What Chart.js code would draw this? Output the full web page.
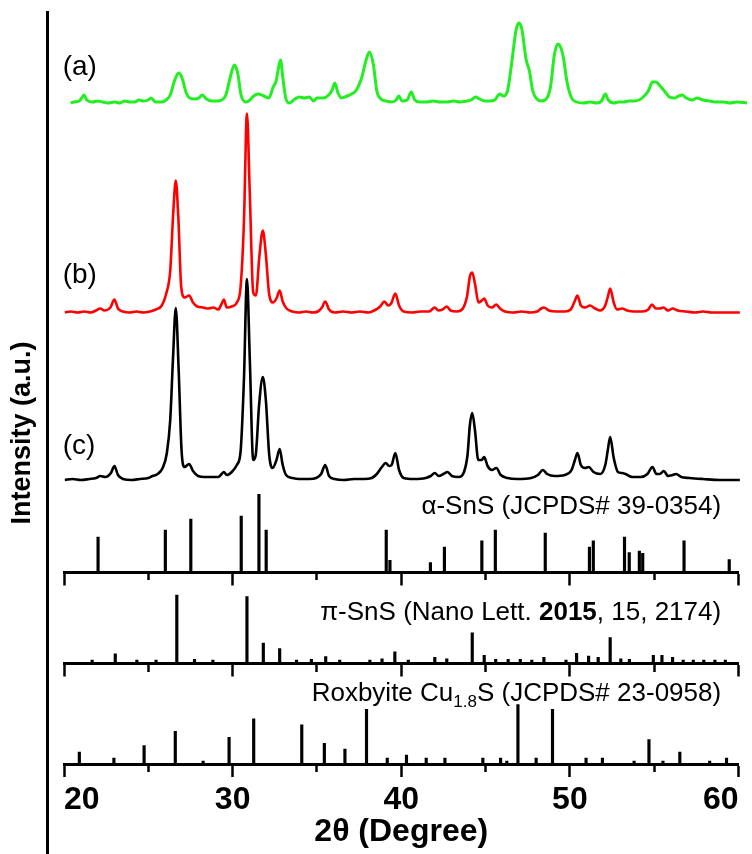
<!DOCTYPE html>
<html>
<head>
<meta charset="utf-8">
<script src="https://cdn.jsdelivr.net/npm/chart.js"></script>
<style>
html,body{margin:0;padding:0;background:#fff;overflow:hidden}
#wrap{position:relative;width:752px;height:854px}
</style>
</head>
<body>
<div id="wrap"><canvas id="c"></canvas></div>
<script>
// ---------------- data ----------------
const TICKS_MAJOR = [20, 30, 40, 50, 60];
const TICKS_MINOR = [25, 35, 45, 55];
const TICK_LABELS = ['20', '30', '40', '50', '60'];

// XRD pattern (a), [2theta, intensity a.u. above its baseline]
const PATTERN_A = [[20.39,0],[20.6,1],[20.9,2],[21.05,5],[21.19,8],[21.35,3],[21.7,1],[22.0,2],[22.3,1],[22.6,0],[23.0,1],[23.3,0],[23.6,2],[23.9,1],[24.2,1],[24.45,3],[24.7,2],[25.0,3],[25.15,5],[25.45,1],[25.8,1],[26.05,3],[26.3,8],[26.55,22],[26.8,30],[27.0,25],[27.25,10],[27.45,5],[27.75,4],[28.0,5],[28.2,8],[28.45,4],[28.75,2],[29.05,2],[29.35,3],[29.6,8],[29.85,25],[30.1,38],[30.3,30],[30.5,8],[30.78,1],[30.95,2],[31.25,7],[31.5,9],[31.85,7],[32.15,5],[32.4,16],[32.58,22],[32.72,35],[32.84,43],[32.98,25],[33.15,5],[33.35,0],[33.7,4],[33.95,6],[34.25,5],[34.55,6],[34.8,2],[35.0,5],[35.35,5],[35.7,8],[35.9,13],[36.06,20],[36.25,10],[36.45,5],[36.8,7],[37.05,9],[37.3,12],[37.65,25],[37.9,42],[38.11,51],[38.35,38],[38.55,12],[38.8,4],[39.1,2],[39.45,1],[39.7,3],[39.85,7],[40.05,2],[40.35,3],[40.59,11],[40.8,3],[41.1,1],[41.5,1],[41.9,2],[42.3,1],[42.7,1],[43.1,2],[43.5,1],[43.9,2],[44.15,3],[44.41,6],[44.65,4],[44.95,2],[45.25,2],[45.55,3],[45.83,9],[46.05,7],[46.3,12],[46.55,40],[46.8,72],[46.97,80],[47.15,74],[47.4,44],[47.6,32],[47.8,12],[48.05,4],[48.3,2],[48.6,4],[48.85,16],[49.08,48],[49.28,59],[49.42,57],[49.62,45],[49.82,22],[50.1,5],[50.4,1],[50.8,0],[51.2,1],[51.6,0],[51.88,2],[52.1,9],[52.28,3],[52.6,0],[52.9,1],[53.2,1],[53.5,2],[53.8,2],[54.1,3],[54.35,6],[54.65,12],[54.9,21],[55.1,21],[55.35,17],[55.6,12],[55.9,6],[56.2,5],[56.45,7],[56.65,8],[56.9,5],[57.25,3],[57.55,5],[57.9,3],[58.3,2],[58.7,1],[59.1,1],[59.5,0],[59.9,1],[60.5,0]];

// XRD pattern (b)
const PATTERN_B = [[20.05,0],[20.4,1],[20.8,0],[21.2,1],[21.6,0],[21.9,2],[22.15,4],[22.4,2],[22.75,5],[22.99,13],[23.2,4],[23.5,1],[23.9,0],[24.3,1],[24.7,0],[25.1,1],[25.45,3],[25.8,7],[26.05,18],[26.3,42],[26.48,100],[26.63,132],[26.78,95],[26.95,26],[27.15,15],[27.42,17],[27.65,10],[27.9,6],[28.25,5],[28.55,4],[28.85,5],[29.15,3],[29.33,8],[29.48,13],[29.65,5],[29.95,6],[30.25,10],[30.47,25],[30.67,90],[30.85,199],[31.02,118],[31.22,20],[31.38,17],[31.58,55],[31.79,82],[31.97,58],[32.17,18],[32.4,10],[32.6,14],[32.79,22],[32.97,11],[33.2,4],[33.55,1],[33.95,0],[34.35,1],[34.75,0],[35.05,1],[35.3,5],[35.49,11],[35.72,3],[36.05,0],[36.55,1],[37.05,0],[37.55,1],[38.05,0],[38.4,2],[38.75,6],[39.0,11],[39.22,7],[39.4,9],[39.65,19],[39.87,7],[40.15,1],[40.65,0],[41.15,1],[41.65,1],[41.99,5],[42.2,2],[42.45,3],[42.7,6],[42.92,2],[43.3,1],[43.65,4],[43.9,16],[44.07,36],[44.21,40],[44.38,28],[44.58,10],[44.78,12],[44.92,14],[45.12,7],[45.38,5],[45.64,8],[45.86,4],[46.15,1],[46.65,0],[47.15,1],[47.65,0],[48.05,1],[48.3,4],[48.45,5],[48.75,2],[49.2,1],[49.7,1],[50.05,3],[50.28,11],[50.45,17],[50.65,7],[50.9,5],[51.19,7],[51.5,4],[51.8,2],[52.07,6],[52.24,15],[52.39,24],[52.6,10],[52.8,3],[53.1,4],[53.4,2],[53.8,1],[54.3,1],[54.65,3],[54.87,8],[55.1,4],[55.33,4],[55.55,5],[55.82,2],[56.1,4],[56.4,2],[56.9,1],[57.4,0],[57.9,1],[58.4,0],[58.9,0],[59.4,0],[59.9,0],[60.08,0]];

// XRD pattern (c)
const PATTERN_C = [[20.05,0],[20.5,1],[21.0,0],[21.5,1],[21.9,2],[22.15,4],[22.45,3],[22.78,7],[22.99,14],[23.2,5],[23.5,1],[24.0,0],[24.5,1],[25.0,2],[25.25,4],[25.55,6],[25.85,12],[26.1,27],[26.3,60],[26.46,120],[26.63,172],[26.8,110],[26.97,30],[27.15,13],[27.42,16],[27.65,9],[27.95,4],[28.35,3],[28.75,3],[29.15,3],[29.35,6],[29.48,8],[29.65,5],[29.95,8],[30.25,15],[30.47,28],[30.67,100],[30.85,201],[31.02,120],[31.22,20],[31.37,25],[31.57,75],[31.79,103],[31.97,80],[32.17,25],[32.37,12],[32.6,20],[32.79,31],[32.97,15],[33.17,5],[33.55,2],[33.95,1],[34.55,1],[34.95,2],[35.25,6],[35.49,15],[35.72,4],[36.05,1],[36.6,0],[37.2,1],[37.8,1],[38.25,2],[38.55,6],[38.85,13],[39.08,17],[39.28,14],[39.43,15],[39.65,27],[39.87,10],[40.15,2],[40.75,1],[41.45,2],[41.75,4],[41.99,7],[42.22,4],[42.5,6],[42.75,8],[43.0,4],[43.4,3],[43.72,8],[43.93,25],[44.07,55],[44.21,67],[44.37,50],[44.57,20],[44.77,20],[44.92,23],[45.12,14],[45.38,10],[45.64,12],[45.9,5],[46.3,2],[46.9,1],[47.7,2],[48.1,5],[48.4,10],[48.65,6],[49.1,4],[49.7,5],[50.1,10],[50.3,20],[50.45,27],[50.65,15],[50.9,12],[51.12,13],[51.4,8],[51.8,6],[52.1,15],[52.25,30],[52.39,43],[52.6,22],[52.85,8],[53.1,7],[53.3,6],[53.7,3],[54.2,3],[54.6,6],[54.9,13],[55.13,6],[55.33,6],[55.57,9],[55.82,4],[56.1,5],[56.3,6],[56.6,3],[57.1,2],[57.9,1],[58.9,0],[59.6,0],[60.08,0]];

// reference stick patterns: positions (2theta) and relative intensities (%)
const ALPHA_POS = [22.02,26.01,27.52,30.51,31.56,31.99,39.11,39.33,41.73,42.56,44.78,45.58,48.54,51.16,51.39,53.24,53.52,54.12,54.32,56.77,59.45];
const ALPHA_INT = [45,54,68,72,100,54,54,15,12,32,40,54,50,32,40,45,25,27,24,40,16];

const PI_POS = [21.67,23.04,24.32,25.46,26.69,27.74,28.83,30.85,31.82,32.79,33.79,34.67,35.52,36.35,38.14,38.86,39.62,40.42,41.99,42.70,44.21,44.92,45.60,46.34,47.06,47.74,48.46,49.77,50.40,51.11,51.68,52.39,53.02,53.53,54.95,55.46,56.09,56.72,57.32,57.94,58.60,59.22];
const PI_INT = [5,14,5,5,100,6,5,98,30,22,5,6,10,5,5,7,17,5,9,7,45,12,6,6,6,5,9,5,15,11,9,38,7,6,12,12,9,5,5,5,5,5];

const ROX_POS = [20.91,22.96,24.75,26.60,28.25,29.79,31.25,34.10,35.44,36.66,37.94,39.17,40.31,41.48,42.59,44.84,45.89,46.26,46.92,48.00,48.97,50.96,51.93,53.81,54.69,55.52,56.52,58.29,59.29];
const ROX_INT = [20,10,31,55,5,45,76,66,35,25,92,10,15,10,10,10,10,5,100,10,92,10,10,5,41,5,20,5,10];

// ---------------- layout / style ----------------
const FONT = '"Liberation Sans", Arial, Helvetica, sans-serif';
const PLOT_TOP = 12, PLOT_BOTTOM = 764;   // chart area in pixels (set by layout below)

function panelAxis(basePx, pxPerUnit) {
  return { type: 'linear', axis: 'y', display: false,
           min: -(PLOT_BOTTOM - basePx) / pxPerUnit, max: (basePx - PLOT_TOP) / pxPerUnit };
}
function ticksAt(values) { return s => { s.ticks = values.map(v => ({ value: v })); }; }
function panelX(yId, values, len, withBorder) {
  return { type: 'linear', axis: 'x', min: 20, max: 60, offset: false,
    position: { [yId]: 0 },
    afterBuildTicks: ticksAt(values),
    ticks: { display: false },
    grid: { display: true, drawOnChartArea: false, drawTicks: true, tickLength: len,
            tickWidth: 2.5, tickColor: '#000', offset: false },
    border: { display: withBorder, color: '#000', width: 3 } };
}
const pairs = arr => arr.map(([x, y]) => ({ x, y }));
const sticks = (pos, val) => pos.map((x, i) => ({ x, y: val[i] }));

const LABELS = [
  { axis: 'yA', x: 19.92, y: 28, align: 'left', parts: [{ t: '(a)', size: 28 }] },
  { axis: 'yB', x: 19.92, y: 29.5, align: 'left', parts: [{ t: '(b)', size: 28 }] },
  { axis: 'yC', x: 19.92, y: 26, align: 'left', parts: [{ t: '(c)', size: 28 }] },
  { axis: 'yAlpha', x: 58.97, y: 75, align: 'right', parts: [{ t: 'α-SnS (JCPDS# 39-0354)', size: 26 }] },
  { axis: 'yPi', x: 58.97, y: 64, align: 'right', parts: [
      { t: 'π-SnS (Nano Lett. ', size: 26 }, { t: '2015', size: 26, bold: true }, { t: ', 15, 2174)', size: 26 }] },
  { axis: 'yRox', x: 58.97, y: 107, align: 'right', parts: [
      { t: 'Roxbyite Cu', size: 26 }, { t: '1.8', size: 17, dy: 6 }, { t: 'S (JCPDS# 23-0958)', size: 26 }] }
];

const textPlugin = {
  id: 'panelText',
  afterDatasetsDraw(chart) {
    const ctx = chart.ctx;
    ctx.save();
    ctx.fillStyle = '#000';
    ctx.textBaseline = 'alphabetic';
    ctx.textAlign = 'left';
    LABELS.forEach(l => {
      let x = chart.scales.x.getPixelForValue(l.x);
      const y = chart.scales[l.axis].getPixelForValue(l.y);
      const parts = l.parts.map(p => Object.assign({}, p, { font: (p.bold ? 'bold ' : '') + p.size + 'px ' + FONT }));
      let w = 0;
      parts.forEach(p => { ctx.font = p.font; p.w = ctx.measureText(p.t).width; w += p.w; });
      if (l.align === 'right') x -= w;
      parts.forEach(p => { ctx.font = p.font; ctx.fillText(p.t, x, y + (p.dy || 0)); x += p.w; });
    });
    ctx.restore();
  }
};

const lineDs = (data, yId, color, width) => ({
  type: 'line', data: pairs(data), xAxisID: 'x', yAxisID: yId,
  borderColor: color, borderWidth: width, pointRadius: 0, tension: 0,
  cubicInterpolationMode: 'monotone', fill: false, clip: false, borderJoinStyle: 'round'
});
const barDs = (data, yId) => ({
  type: 'bar', data, xAxisID: 'x', yAxisID: yId, backgroundColor: '#000',
  borderWidth: 0, barThickness: 2.5, grouped: false
});

new Chart(document.getElementById('c'), {
  type: 'line',
  data: {
    datasets: [
      lineDs(PATTERN_A, 'yA', '#22ee22', 3),
      lineDs(PATTERN_B, 'yB', '#ff0000', 2.6),
      lineDs(PATTERN_C, 'yC', '#000000', 2.6),
      barDs(sticks(ALPHA_POS, ALPHA_INT), 'yAlpha'),
      barDs(sticks(PI_POS, PI_INT), 'yPi'),
      barDs(sticks(ROX_POS, ROX_INT), 'yRox')
    ]
  },
  options: {
    responsive: true, maintainAspectRatio: false, animation: false, events: [],
    layout: { padding: { top: PLOT_TOP, right: 13.5, bottom: 0, left: 0 } },
    plugins: { legend: { display: false }, tooltip: { enabled: false } },
    scales: {
      x: { type: 'linear', axis: 'x', position: 'bottom', min: 20, max: 60, offset: false,
        afterBuildTicks: ticksAt(TICKS_MAJOR),
        afterFit: s => { s.paddingLeft = 0; s.paddingRight = 0; },
        ticks: { callback: (v, i) => TICK_LABELS[i], color: '#000', padding: 7, maxRotation: 0, autoSkip: false,
                 align: 'inner',
                 font: { family: FONT, size: 32, weight: 'bold', lineHeight: 1 } },
        grid: { display: true, drawOnChartArea: false, drawTicks: true, tickLength: 13,
                tickWidth: 2.5, tickColor: '#000', offset: false },
        border: { display: true, color: '#000', width: 3 },
        title: { display: true, text: '2θ (Degree)', color: '#000',
                 font: { family: FONT, size: 32, weight: 'bold', lineHeight: 1 },
                 padding: { top: -7, bottom: 6 } } },
      xMinor: panelX('yRox', TICKS_MINOR, 8, false),
      xAlpha: panelX('yAlpha', TICKS_MAJOR, 11.5, true),
      xAlphaMinor: panelX('yAlpha', TICKS_MINOR, 8, false),
      xPi: panelX('yPi', TICKS_MAJOR, 11.5, true),
      xPiMinor: panelX('yPi', TICKS_MINOR, 8, false),
      yTitle: { type: 'linear', axis: 'y', position: 'left', fullSize: true, weight: 10, min: 0, max: 1,
        ticks: { display: false }, grid: { display: false, drawTicks: false },
        border: { display: true, color: '#000', width: 3 },
        title: { display: true, text: 'Intensity (a.u.)', color: '#000',
                 font: { family: FONT, size: 27, weight: 'bold', lineHeight: 1 },
                 padding: { top: 9, bottom: 11 } } },
      ySpacer: { type: 'linear', axis: 'y', position: 'left', weight: 5, min: 0, max: 1,
        ticks: { display: false },
        grid: { display: true, drawOnChartArea: false, drawTicks: true, tickLength: 17, tickColor: 'rgba(0,0,0,0)' },
        border: { display: false } },
      yA: panelAxis(103, 1),
      yB: panelAxis(312.5, 1),
      yC: panelAxis(480, 1),
      yAlpha: panelAxis(572, 0.777),
      yPi: panelAxis(663.5, 0.683),
      yRox: panelAxis(764, 0.593)
    }
  },
  plugins: [textPlugin]
});
</script>
</body>
</html>
